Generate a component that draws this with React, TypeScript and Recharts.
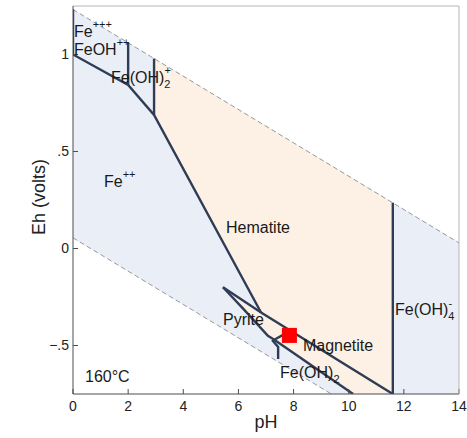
import { Area, ComposedChart, Label, Line, ReferenceDot, Scatter, XAxis, YAxis } from 'recharts';

const xTicks = [0, 2, 4, 6, 8, 10, 12, 14];
const yTicks = [-0.5, 0, 0.5, 1];
const yTickText: Record<string, string> = { '-0.5': '\u2212.5', '0': '0', '0.5': '.5', '1': '1' };

// water stability limits (dashed)
const upperWater = [
  { x: 0, y: 1.232 },
  { x: 14, y: 0.029 },
];
const lowerWater = [
  { x: 0, y: 0.055 },
  { x: 9.37, y: -0.75 },
];

// shaded fields [low, high]
const waterBand = [
  { x: 0, r: [0.055, 1.232] },
  { x: 9.37, r: [-0.75, 0.427] },
  { x: 14, r: [-0.75, 0.029] },
];
const solidField = [
  { x: 2.94, r: [0.688, 0.979] },
  { x: 6.82, r: [-0.33, 0.646] },
  { x: 6.82, r: [-0.411, 0.646] },
  { x: 7.07, r: [-0.45, 0.625] },
  { x: 7.3, r: [-0.47, 0.605] },
  { x: 10.16, r: [-0.75, 0.359] },
  { x: 11.6, r: [-0.75, 0.236] },
];
const pyriteField = [
  { x: 5.44, r: [-0.2, -0.2] },
  { x: 6.17, r: [-0.31, -0.269] },
  { x: 6.82, r: [-0.411, -0.33] },
];

// boundaries
const feBoundary = [
  { x: 0, y: 1.232 },
  { x: 0, y: 1.0 },
  { x: 2.0, y: 0.843 },
  { x: 2.94, y: 0.688 },
  { x: 6.82, y: -0.33 },
];
const feohLeft = [
  { x: 2.0, y: 1.06 },
  { x: 2.0, y: 0.843 },
];
const feohRight = [
  { x: 2.94, y: 0.979 },
  { x: 2.94, y: 0.688 },
];
const hemMag = [
  { x: 5.44, y: -0.2 },
  { x: 6.82, y: -0.33 },
  { x: 11.6, y: -0.75 },
];
const pyriteLower = [
  { x: 5.44, y: -0.2 },
  { x: 6.17, y: -0.31 },
  { x: 7.07, y: -0.45 },
  { x: 7.3, y: -0.47 },
  { x: 7.62, y: -0.445 },
];
const magFeoh2 = [
  { x: 7.3, y: -0.47 },
  { x: 10.16, y: -0.75 },
];
const stem = [
  { x: 7.22, y: -0.472 },
  { x: 7.44, y: -0.508 },
  { x: 7.44, y: -0.57 },
];
const feoh4 = [
  { x: 11.6, y: 0.236 },
  { x: 11.6, y: -0.75 },
];

const marker = [{ x: 7.85, y: -0.448 }];

type Part = { t: string; kind?: 'sup' | 'sub'; dx?: number; dy?: number };
const regionLabels: { x: number; y: number; parts: Part[]; middle?: boolean }[] = [
  { x: 0.036, y: 1.092, parts: [{ t: 'Fe' }, { t: '+++', kind: 'sup', dy: -9 }] },
  { x: 0.036, y: 1.0, parts: [{ t: 'FeOH' }, { t: '++', kind: 'sup', dy: -9 }] },
  {
    x: 1.378,
    y: 0.855,
    parts: [{ t: 'Fe(OH)' }, { t: '2', kind: 'sub', dy: 5 }, { t: '+', kind: 'sup', dx: -6, dy: -14 }],
  },
  { x: 1.124, y: 0.318, parts: [{ t: 'Fe' }, { t: '++', kind: 'sup', dy: -9 }] },
  { x: 6.71, y: 0.08, parts: [{ t: 'Hematite' }], middle: true },
  { x: 5.44, y: -0.394, parts: [{ t: 'Pyrite' }] },
  { x: 8.34, y: -0.528, parts: [{ t: 'Magnetite' }] },
  { x: 7.51, y: -0.667, parts: [{ t: 'Fe(OH)' }, { t: '2', kind: 'sub', dy: 5 }] },
  {
    x: 11.68,
    y: -0.342,
    parts: [{ t: 'Fe(OH)' }, { t: '4', kind: 'sub', dy: 5 }, { t: '-', kind: 'sup', dx: -6, dy: -13 }],
  },
  { x: 0.435, y: -0.688, parts: [{ t: '160°C' }] },
];

const FONT = '"Liberation Sans", Arial, Helvetica, sans-serif';
const LINE = '#2e3c56';

function boundary(data: { x: number; y: number }[], key: string) {
  return (
    <Line
      key={key}
      data={data}
      dataKey="y"
      type="linear"
      stroke={LINE}
      strokeWidth={2.4}
      dot={false}
      activeDot={false}
      isAnimationActive={false}
    />
  );
}

function App() {
  return (
    <div style={{ position: 'absolute', left: 0, top: 0 }}>
      <ComposedChart width={467} height={438} margin={{ top: 5, right: 7, bottom: 14, left: 13 }}>
        <XAxis
          dataKey="x"
          type="number"
          domain={[0, 14]}
          ticks={xTicks}
          allowDataOverflow
          height={30}
          tickSize={-5}
          tickMargin={12}
          stroke="#4d4d4d"
          tick={{ fontSize: 14, fill: '#222', fontFamily: FONT }}
        >
          <Label
            content={(p: any) => (
              <text
                x={p.viewBox.x + p.viewBox.width / 2}
                y={p.viewBox.y + 34}
                textAnchor="middle"
                fontSize={18}
                fontFamily={FONT}
                fill="#222"
              >
                pH
              </text>
            )}
          />
        </XAxis>
        <XAxis
          xAxisId="top"
          orientation="top"
          type="number"
          domain={[0, 14]}
          ticks={xTicks}
          height={1}
          tickSize={-5}
          tickFormatter={() => ''}
          stroke="#b5b5b5"
        />
        <YAxis
          dataKey="y"
          type="number"
          domain={[-0.75, 1.25]}
          ticks={yTicks}
          allowDataOverflow
          width={60}
          tickSize={-5}
          tickMargin={9}
          stroke="#4d4d4d"
          tickFormatter={(v: number) => yTickText[String(v)] ?? String(v)}
          tick={{ fontSize: 14, fill: '#222', fontFamily: FONT }}
        >
          <Label
            content={() => (
              <text
                x={45}
                y={197}
                transform="rotate(-90 45 197)"
                textAnchor="middle"
                fontSize={18}
                fontFamily={FONT}
                fill="#222"
              >
                Eh (volts)
              </text>
            )}
          />
        </YAxis>
        <YAxis
          yAxisId="right"
          orientation="right"
          type="number"
          domain={[-0.75, 1.25]}
          ticks={yTicks}
          width={1}
          tickSize={-5}
          tickFormatter={() => ''}
          stroke="#b5b5b5"
        />

        <Area data={waterBand} dataKey="r" type="linear" stroke="none" fill="#e9eef7" fillOpacity={1} isAnimationActive={false} />
        <Area data={solidField} dataKey="r" type="linear" stroke="none" fill="#fdf0e4" fillOpacity={1} isAnimationActive={false} />
        <Area data={pyriteField} dataKey="r" type="linear" stroke="none" fill="#fdf0e4" fillOpacity={1} isAnimationActive={false} />

        <Line data={upperWater} dataKey="y" type="linear" stroke="#8c8c8c" strokeWidth={0.9} strokeDasharray="5 3" dot={false} activeDot={false} isAnimationActive={false} />
        <Line data={lowerWater} dataKey="y" type="linear" stroke="#8c8c8c" strokeWidth={0.9} strokeDasharray="5 3" dot={false} activeDot={false} isAnimationActive={false} />

        {boundary(feBoundary, 'fe')}
        {boundary(feohLeft, 'feohL')}
        {boundary(feohRight, 'feohR')}
        {boundary(hemMag, 'hemMag')}
        {boundary(pyriteLower, 'pyL')}
        {boundary(magFeoh2, 'magFeoh2')}
        {boundary(stem, 'stem')}
        {boundary(feoh4, 'feoh4')}

        <Scatter
          data={marker}
          dataKey="y"
          isAnimationActive={false}
          shape={(p: any) => <rect x={p.cx - 7.5} y={p.cy - 7.5} width={15} height={15} fill="#ff0000" />}
        />

        {regionLabels.map((l, i) => (
          <ReferenceDot
            key={i}
            x={l.x}
            y={l.y}
            r={0}
            ifOverflow="visible"
            shape={(p: any) => (
              <text
                x={p.cx}
                y={p.cy}
                fontSize={16}
                fontFamily={FONT}
                fill="#1a1a1a"
                textAnchor={l.middle ? 'middle' : 'start'}
              >
                {l.parts.map((s, j) => (
                  <tspan key={j} dx={s.dx} dy={s.dy} fontSize={s.kind ? 11 : 16}>
                    {s.t}
                  </tspan>
                ))}
              </text>
            )}
          />
        ))}
      </ComposedChart>
    </div>
  );
}

export default App;
